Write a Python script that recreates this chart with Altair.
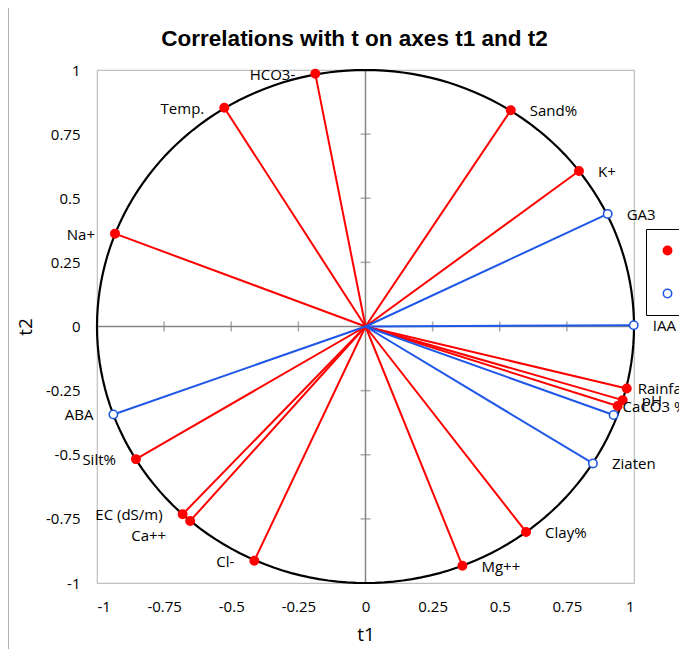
import altair as alt
import pandas as pd

# ---- data ----
names = ["HCO3-", "Temp.", "Sand%", "K+", "Na+", "Rainfall", "pH", "CaCO3 %",
         "Silt%", "EC (dS/m)", "Ca++", "Cl-", "Mg++", "Clay%",
         "GA3", "IAA", "", "Ziaten", "ABA"]
series = ["X"] * 14 + ["Y"] * 5
t1 = [-0.187, -0.526, 0.541, 0.795, -0.933, 0.973, 0.958, 0.939,
      -0.855, -0.681, -0.653, -0.414, 0.361, 0.598,
      0.902, 0.999, 0.924, 0.847, -0.939]
t2 = [0.985, 0.853, 0.843, 0.606, 0.362, -0.242, -0.287, -0.310,
      -0.517, -0.732, -0.758, -0.913, -0.933, -0.801,
      0.439, 0.005, -0.345, -0.534, -0.343]
label_side = ["left", "left", "right", "right", "left", "right-near", "right", "right-close",
              "left", "left", "below-left", "left", "right", "right",
              "right", "right", "none", "right", "left"]
tick_values = [-1, -0.75, -0.5, -0.25, 0, 0.25, 0.5, 0.75, 1]

df = pd.DataFrame({"name": names, "series": series, "t1": t1, "t2": t2, "side": label_side})
ticks_df = pd.DataFrame({"v": tick_values})

RED = "#FF0000"
BLUE = "#1F57E6"
GRAY = "#868686"
FONT = "Open Sans"

xscale = alt.Scale(domain=[-1, 1], nice=False, zero=False)
yscale = alt.Scale(domain=[-1, 1], nice=False, zero=False)
xaxis = alt.Axis(values=tick_values, labelExpr="'' + datum.value", title="t1",
                 grid=False, domain=False, ticks=False, labelPadding=16,
                 titlePadding=11, labelFontSize=15, titleFontSize=19)
yaxis = alt.Axis(values=tick_values, labelExpr="'' + datum.value", title="t2",
                 grid=False, domain=False, ticks=False, labelPadding=17,
                 titlePadding=10, labelFontSize=15, titleFontSize=19)


def X(field=None, datum=None):
    if datum is not None:
        return alt.X(datum=datum, type="quantitative", scale=xscale, axis=xaxis)
    return alt.X(field, type="quantitative", scale=xscale, axis=xaxis)


def Y(field=None, datum=None):
    if datum is not None:
        return alt.Y(datum=datum, type="quantitative", scale=yscale, axis=yaxis)
    return alt.Y(field, type="quantitative", scale=yscale, axis=yaxis)


one = alt.Data(values=[{"a": 1}])

# outer chart-area border line on the left (decoration)
border = alt.Chart(one).mark_rule(color="#B0B0B0", strokeWidth=1).encode(
    x=alt.value(-88.5), y=alt.value(-62), y2=alt.value(590))

vzero = alt.Chart(one).mark_rule(color=GRAY, strokeWidth=1.5).encode(x=X(datum=0))
hzero = alt.Chart(one).mark_rule(color=GRAY, strokeWidth=1.5).encode(y=Y(datum=0))
xticks = alt.Chart(ticks_df).mark_tick(color=GRAY, orient="vertical", size=10, thickness=1.5).encode(
    x=X("v"), y=Y(datum=0))
yticks = alt.Chart(ticks_df).mark_tick(color=GRAY, orient="horizontal", size=10, thickness=1.5).encode(
    y=Y("v"), x=X(datum=0))

circle = alt.Chart(alt.sequence(0, 362, 2, as_="deg")).transform_calculate(
    cx="cos(datum.deg * PI / 180)", cy="sin(datum.deg * PI / 180)"
).mark_line(color="black", strokeWidth=2.2).encode(
    x=X("cx:Q"), y=Y("cy:Q"), order="deg:Q")

lines_x = alt.Chart(df).transform_filter("datum.series == 'X'").mark_rule(
    color=RED, strokeWidth=2).encode(
    x=X("t1"), y=Y("t2"), x2=alt.X2(datum=0), y2=alt.Y2(datum=0))
lines_y = alt.Chart(df).transform_filter("datum.series == 'Y'").mark_rule(
    color=BLUE, strokeWidth=2).encode(
    x=X("t1"), y=Y("t2"), x2=alt.X2(datum=0), y2=alt.Y2(datum=0))

legend = alt.Legend(title=None, orient="none", legendX=549, legendY=159,
                    strokeColor="black", fillColor="white", padding=13,
                    labelFontSize=17, labelFont=FONT, labelColor="black",
                    rowPadding=25, labelOffset=7, symbolSize=70,
                    symbolStrokeWidth=1.6, columnPadding=10)
points = alt.Chart(df).mark_point(filled=False, size=70, strokeWidth=1.6, opacity=1).encode(
    x=X("t1"), y=Y("t2"),
    fill=alt.Fill("series:N", scale=alt.Scale(domain=["X", "Y"], range=[RED, "white"]), legend=legend),
    stroke=alt.Stroke("series:N", scale=alt.Scale(domain=["X", "Y"], range=[RED, BLUE]), legend=legend),
)


def labels(side, align, dx, dy):
    return alt.Chart(df).transform_filter(f"datum.side == '{side}'").mark_text(
        align=align, baseline="middle", dx=dx, dy=dy, fontSize=15, font=FONT, color="black"
    ).encode(x=X("t1"), y=Y("t2"), text="name:N")


chart = alt.layer(
    border, vzero, hzero, xticks, yticks, circle, lines_x, lines_y, points,
    labels("right", "left", 19, 1),
    labels("left", "right", -20, 1),
    labels("right-near", "left", 11, 0),
    labels("right-close", "left", 5, 1),
    labels("below-left", "right", -24, 15),
).properties(
    width=537, height=513,
    title=alt.TitleParams("Correlations with t on axes t1 and t2", font="Liberation Sans",
                          fontSize=22.5, fontWeight="bold", color="black", dx=-11, offset=0, dy=43),
    autosize=alt.AutoSizeParams(type="none"),
    padding={"left": 89, "top": 62, "right": 45, "bottom": 66},
).configure_view(
    stroke="#BFBFBF", strokeWidth=1.2
).configure_axis(
    labelFont=FONT, titleFont=FONT, labelColor="black", titleColor="black", titleFontWeight="normal"
)

chart.save("out.html", embed_options={"renderer": "svg", "actions": False})
